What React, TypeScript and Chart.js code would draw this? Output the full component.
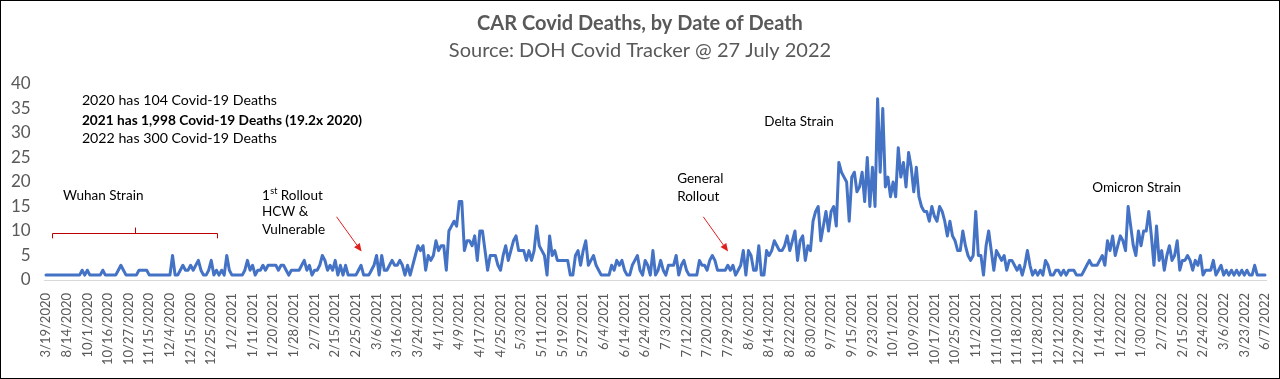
import React, { useEffect, useRef } from "react";
import { Chart, registerables } from "chart.js";

Chart.register(...registerables);

// ---------- DATA ----------
const tickLabels: string[] = [
  "3/19/2020", "8/14/2020", "10/1/2020", "10/16/2020", "10/27/2020", "11/15/2020",
  "12/4/2020", "12/15/2020", "12/25/2020", "1/2/2021", "1/11/2021", "1/20/2021",
  "1/28/2021", "2/7/2021", "2/15/2021", "2/25/2021", "3/6/2021", "3/16/2021",
  "3/24/2021", "4/1/2021", "4/9/2021", "4/17/2021", "4/25/2021", "5/3/2021",
  "5/11/2021", "5/19/2021", "5/27/2021", "6/4/2021", "6/14/2021", "6/24/2021",
  "7/3/2021", "7/12/2021", "7/20/2021", "7/29/2021", "8/6/2021", "8/14/2021",
  "8/22/2021", "8/30/2021", "9/7/2021", "9/15/2021", "9/23/2021", "10/1/2021",
  "10/9/2021", "10/17/2021", "10/25/2021", "11/2/2021", "11/10/2021", "11/18/2021",
  "11/28/2021", "12/12/2021", "12/29/2021", "1/14/2022", "1/22/2022", "1/30/2022",
  "2/7/2022", "2/15/2022", "2/24/2022", "3/6/2022", "3/23/2022", "6/7/2022",
];

// one labelled date every 8 reported days
const POINTS_PER_LABEL = 8;

const deaths: number[] = [
  1, 1, 1, 1, 1, 1, 1, 1,
  1, 1, 1, 1, 1, 1, 2, 1,
  2, 1, 1, 1, 1, 1, 2, 1,
  1, 1, 1, 1, 2, 3, 2, 1,
  1, 1, 1, 1, 2, 2, 2, 2,
  1, 1, 1, 1, 1, 1, 1, 1,
  1, 5, 1, 1, 2, 3, 2, 2,
  3, 2, 3, 4, 2, 1, 1, 2,
  4, 1, 2, 1, 2, 1, 5, 2,
  1, 1, 1, 1, 1, 2, 4, 2,
  3, 1, 2, 2, 3, 2, 3, 3,
  3, 3, 2, 3, 3, 2, 1, 2,
  2, 2, 2, 3, 4, 2, 3, 1,
  2, 2, 3, 5, 4, 2, 3, 2,
  4, 1, 3, 1, 3, 1, 1, 1,
  1, 2, 3, 1, 1, 1, 2, 3,
  5, 1, 5, 2, 2, 3, 4, 3,
  3, 4, 3, 1, 3, 1, 3, 5,
  7, 6, 7, 2, 5, 4, 5, 8,
  6, 7, 7, 2, 10, 11, 12, 11,
  16, 16, 6, 8, 8, 7, 9, 4,
  10, 10, 6, 2, 5, 5, 5, 3,
  2, 5, 7, 4, 6, 8, 9, 6,
  6, 6, 4, 6, 4, 6, 11, 7,
  6, 5, 1, 9, 5, 6, 4, 4,
  4, 4, 4, 1, 1, 5, 6, 3,
  6, 8, 3, 4, 5, 3, 2, 1,
  1, 1, 1, 3, 2, 4, 3, 4,
  2, 1, 1, 3, 4, 5, 2, 1,
  4, 3, 1, 6, 1, 2, 4, 2,
  1, 3, 3, 3, 5, 1, 3, 4,
  2, 1, 1, 1, 1, 4, 3, 3,
  2, 4, 5, 4, 2, 2, 2, 2,
  3, 2, 3, 1, 2, 3, 6, 1,
  6, 5, 2, 2, 7, 1, 1, 6,
  5, 6, 8, 7, 6, 6, 7, 9,
  6, 8, 10, 4, 8, 9, 4, 7,
  6, 12, 14, 15, 8, 11, 14, 10,
  14, 15, 11, 24, 22, 21, 20, 12,
  21, 22, 18, 19, 22, 16, 25, 15,
  23, 15, 37, 22, 35, 19, 21, 17,
  20, 17, 27, 21, 24, 19, 26, 23,
  18, 23, 17, 15, 14, 14, 12, 15,
  13, 12, 15, 14, 12, 9, 12, 9,
  8, 6, 6, 10, 7, 5, 4, 5,
  14, 5, 5, 1, 7, 10, 6, 2,
  6, 5, 4, 5, 2, 4, 4, 3,
  2, 3, 1, 3, 6, 3, 1, 2,
  1, 2, 1, 4, 3, 1, 1, 2,
  2, 1, 2, 1, 2, 2, 2, 1,
  1, 1, 2, 3, 4, 3, 3, 3,
  4, 5, 3, 8, 6, 9, 5, 7,
  9, 8, 6, 15, 11, 7, 5, 10,
  7, 10, 10, 14, 9, 3, 11, 4,
  6, 2, 5, 7, 4, 5, 8, 2,
  4, 4, 5, 4, 2, 4, 3, 5,
  1, 2, 2, 2, 4, 1, 2, 3,
  1, 2, 1, 2, 1, 2, 1, 2,
  1, 2, 1, 1, 3, 1, 1, 1,
  1,
];

const yTicks = { min: 0, max: 40, step: 5 };

const titleText = "CAR Covid Deaths, by Date of Death";
const subtitleText = "Source: DOH Covid Tracker @ 27 July 2022";

const yearNotes = [
  "2020 has 104 Covid-19 Deaths",
  "2021 has 1,998 Covid-19 Deaths (19.2x 2020)",
  "2022 has 300 Covid-19 Deaths",
];

// ---------- STYLE ----------
const FONT = "Lato, 'Noto Sans', sans-serif";
const GREY = "#595959";
const LINE = "#4472C4";

const categories = deaths.map((_, i) =>
  i % POINTS_PER_LABEL === 0 ? tickLabels[i / POINTS_PER_LABEL] ?? "" : ""
);

function arrow(ctx: CanvasRenderingContext2D, x1: number, y1: number, x2: number, y2: number, color: string) {
  const ang = Math.atan2(y2 - y1, x2 - x1);
  const head = 8;
  const hw = 3.5;
  ctx.strokeStyle = color;
  ctx.fillStyle = color;
  ctx.lineWidth = 1;
  ctx.beginPath();
  ctx.moveTo(x1, y1);
  ctx.lineTo(x2 - Math.cos(ang) * head, y2 - Math.sin(ang) * head);
  ctx.stroke();
  ctx.beginPath();
  ctx.moveTo(x2, y2);
  ctx.lineTo(
    x2 - Math.cos(ang) * head + Math.cos(ang + Math.PI / 2) * hw,
    y2 - Math.sin(ang) * head + Math.sin(ang + Math.PI / 2) * hw
  );
  ctx.lineTo(
    x2 - Math.cos(ang) * head - Math.cos(ang + Math.PI / 2) * hw,
    y2 - Math.sin(ang) * head - Math.sin(ang + Math.PI / 2) * hw
  );
  ctx.closePath();
  ctx.fill();
}

const annotationPlugin = {
  id: "annotations",
  afterDraw(chart: any) {
    const { ctx } = chart;
    const xs = chart.scales.x;
    const ys = chart.scales.y;
    const px = (i: number) => xs.getPixelForValue(i);
    const py = (v: number) => ys.getPixelForValue(v);
    ctx.save();
    ctx.textBaseline = "middle";
    ctx.textAlign = "left";
    ctx.fillStyle = "#000";
    const f = (w: string, s: number) => `${w} ${s}px ${FONT}`;

    // year summary
    ctx.font = f("normal", 14.2);
    ctx.fillText(yearNotes[0], px(13.9), py(36.6));
    ctx.font = f("bold", 13.7);
    ctx.fillText(yearNotes[1], px(13.9), py(32.6));
    ctx.font = f("normal", 14.2);
    ctx.fillText(yearNotes[2], px(13.9), py(28.9));

    // strain / rollout labels
    ctx.font = f("normal", 13.5);
    ctx.fillText("Wuhan Strain", px(6.6), py(17.3));

    // 1st Rollout with superscript
    const rx = px(83.6);
    ctx.fillText("1", rx, py(17.3));
    const w1 = ctx.measureText("1").width;
    ctx.font = f("normal", 9);
    ctx.fillText("st", rx + w1 + 0.5, py(17.3) - 4);
    const wst = ctx.measureText("st").width;
    ctx.font = f("normal", 13.5);
    ctx.fillText(" Rollout", rx + w1 + 0.5 + wst, py(17.3));
    ctx.fillText("HCW &", rx, py(13.9));
    ctx.fillText("Vulnerable", rx, py(10.3));

    ctx.fillText("General", px(244.4), py(20.6));
    ctx.fillText("Rollout", px(244.4), py(17.1));
    ctx.fillText("Delta Strain", px(278.1), py(32.3));
    ctx.fillText("Omicron Strain", px(405.1), py(18.9));

    // bracket
    ctx.strokeStyle = "#c00000";
    ctx.lineWidth = 1;
    ctx.beginPath();
    const bl = Math.round(px(2.4)) + 0.5;
    const br = Math.round(px(66.1)) + 0.5;
    const bc = Math.round(px(34.5)) + 0.5;
    const by = Math.round(py(9.5)) + 0.5;
    ctx.moveTo(bl, py(8.5));
    ctx.lineTo(bl, by);
    ctx.lineTo(br, by);
    ctx.lineTo(br, py(8.5));
    ctx.moveTo(bc, by);
    ctx.lineTo(bc, py(10.7));
    ctx.stroke();

    // arrows
    arrow(ctx, px(112.5), py(12.9), px(122.2), py(5.8), "#e0201c");
    arrow(ctx, px(254.5), py(12.9), px(264.1), py(5.8), "#e0201c");
    ctx.restore();
  },
};

export default function App() {
  const canvasRef = useRef<HTMLCanvasElement | null>(null);

  useEffect(() => {
    document.body.style.margin = "0";
    const canvas = canvasRef.current;
    if (!canvas) return;
    const chart = new Chart(canvas, {
      type: "line",
      data: {
        labels: categories,
        datasets: [
          {
            label: "Deaths",
            data: deaths,
            borderColor: LINE,
            backgroundColor: LINE,
            borderWidth: 3,
            pointRadius: 0,
            tension: 0,
            borderJoinStyle: "round",
            borderCapStyle: "round",
            fill: false,
          },
        ],
      },
      options: {
        animation: false,
        responsive: false,
        devicePixelRatio: 1,
        layout: { padding: 0 },
        plugins: {
          legend: { display: false },
          tooltip: { enabled: false },
          title: {
            display: true,
            text: titleText,
            color: GREY,
            font: { family: FONT, size: 20, weight: "bold" },
            padding: { top: 10.2, bottom: 3.8 },
          },
          subtitle: {
            display: true,
            text: subtitleText,
            color: GREY,
            font: { family: FONT, size: 20, weight: "normal" },
            padding: { top: 0, bottom: 21 },
          },
        },
        scales: {
          x: {
            type: "category",
            offset: true,
            grid: { display: false, drawTicks: false },
            border: { display: true, color: "#d9d9d9", width: 1 },
            ticks: {
              autoSkip: false,
              minRotation: 90,
              maxRotation: 90,
              padding: 13,
              color: GREY,
              font: { family: FONT, size: 13 },
            },
            afterFit: (s: any) => {
              s.height = 98;
              s.paddingLeft = 0;
              s.paddingRight = 12.7;
            },
          },
          y: {
            min: yTicks.min,
            max: yTicks.max,
            grid: { display: false, drawTicks: false },
            border: { display: false },
            ticks: {
              stepSize: yTicks.step,
              padding: 14,
              color: GREY,
              font: { family: FONT, size: 17 },
            },
            afterFit: (s: any) => {
              s.width = 43.7;
            },
          },
        },
      },
      plugins: [annotationPlugin],
    } as any);
    return () => chart.destroy();
  }, []);

  return (
    <div
      style={{
        width: 1280,
        height: 379,
        boxSizing: "border-box",
        border: "1px solid #000",
        background: "#fff",
      }}
    >
      <canvas ref={canvasRef} width={1278} height={377} style={{ display: "block" }} />
    </div>
  );
}
